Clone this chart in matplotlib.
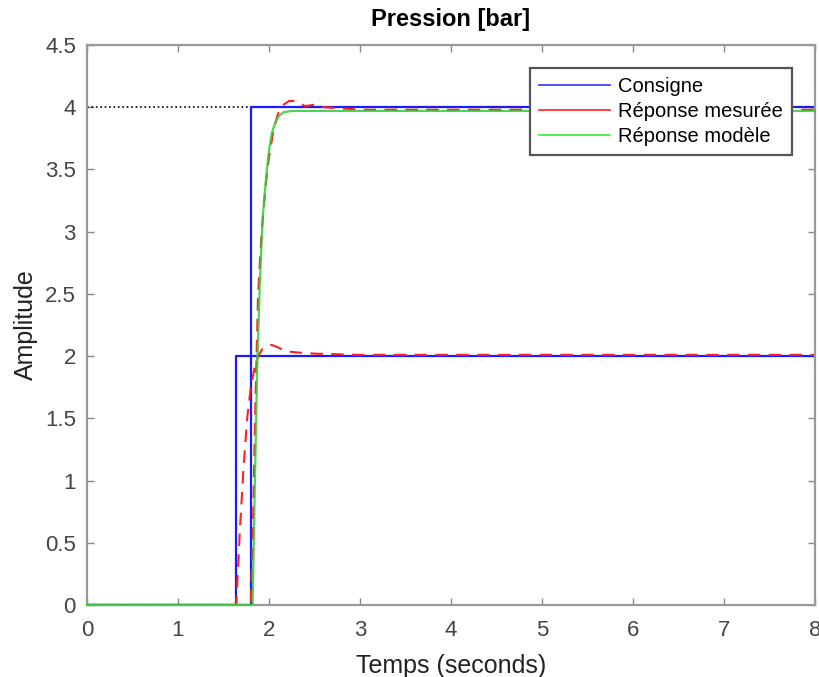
import matplotlib
matplotlib.use("Agg")
import matplotlib.pyplot as plt

plt.rcParams['font.family'] = ['Liberation Sans', 'DejaVu Sans']

# Consigne (set-points)
t_cons1 = [0, 1.64, 1.64, 8]
y_cons1 = [0, 0, 2, 2]
t_cons2 = [0, 1.80, 1.80, 8]
y_cons2 = [0, 0, 4, 4]

# Measured responses
t_mes1 = [0, 1.64, 1.68, 1.72, 1.76, 1.80, 1.84, 1.88, 1.93, 1.98, 2.03, 2.10, 2.18, 2.30, 2.50, 3.0, 4.0, 8.0]
y_mes1 = [0, 0, 0.6, 1.1, 1.5, 1.75, 1.9, 2.0, 2.06, 2.08, 2.09, 2.07, 2.04, 2.03, 2.02, 2.01, 2.01, 2.01]
t_mes2 = [0, 1.80, 1.82, 1.85, 1.88, 1.92, 1.96, 2.00, 2.05, 2.10, 2.16, 2.22, 2.27, 2.33, 2.40, 2.50, 2.60, 2.80, 3.0, 8.0]
y_mes2 = [0, 0, 0.5, 1.6, 2.5, 3.0, 3.35, 3.6, 3.82, 3.95, 4.02, 4.05, 4.05, 4.03, 4.01, 4.02, 4.0, 3.99, 3.98, 3.98]

# Model response
t_mod = [0, 1.82, 1.84, 1.87, 1.90, 1.93, 1.97, 2.00, 2.03, 2.07, 2.11, 2.16, 2.25, 2.40, 8.0]
y_mod = [0, 0, 0.8, 1.9, 2.6, 3.1, 3.45, 3.65, 3.79, 3.88, 3.93, 3.96, 3.97, 3.97, 3.97]

# Steady-state reference
t_ss = [0, 2.2]
y_ss = [4, 4]

xticks = [0, 1, 2, 3, 4, 5, 6, 7, 8]
yticks = [0, 0.5, 1, 1.5, 2, 2.5, 3, 3.5, 4, 4.5]
ytick_labels = ['0', '0.5', '1', '1.5', '2', '2.5', '3', '3.5', '4', '4.5']

fig = plt.figure(figsize=(8.2, 6.77), dpi=100)
ax = fig.add_axes([87/820, 1-605/677, (815-87)/820, (605-45)/677])

ax.plot(t_ss, y_ss, ':', color='black', lw=1.2)
l1, = ax.plot(t_cons1, y_cons1, color='#1a1aff', lw=1.6)
ax.plot(t_cons2, y_cons2, color='#1a1aff', lw=1.6)
l2, = ax.plot(t_mes1, y_mes1, '--', color='#ff2020', lw=1.5, dashes=(6, 4))
ax.plot(t_mes2, y_mes2, '--', color='#ff2020', lw=1.5, dashes=(6, 4))
l3, = ax.plot(t_mod, y_mod, color='#33cc33', lw=1.6, alpha=0.85, clip_on=False, zorder=5)

ax.set_xlim(0, 8)
ax.set_ylim(0, 4.5)
ax.set_xticks(xticks)
ax.set_xticklabels([str(v) for v in xticks])
ax.set_yticks(yticks)
ax.set_yticklabels(ytick_labels)
ax.tick_params(direction='in', top=True, right=True, length=5, width=1,
               color='#888888', labelcolor='#444444', labelsize=16)
ax.tick_params(axis='x', pad=11)
ax.tick_params(axis='y', pad=8)
for s in ax.spines.values():
    s.set_color('#999999')
    s.set_linewidth(1.6)

ax.set_xlabel('Temps (seconds)', fontsize=18, color='#222222', labelpad=9)
ax.set_ylabel('Amplitude', fontsize=18, color='#222222', labelpad=5)
ax.set_title('Pression [bar]', fontsize=17, fontweight='bold', pad=14)

h1, = ax.plot([], [], color='#3333ff', lw=1.2)
h2, = ax.plot([], [], color='#ff2020', lw=1.2)
h3, = ax.plot([], [], color='#33ee33', lw=1.2)
leg = ax.legend([h1, h2, h3], ['Consigne', 'Réponse mesurée', 'Réponse modèle'],
                loc='upper right', bbox_to_anchor=(0.968, 0.959), borderaxespad=0,
                fontsize=14.5, fancybox=False, framealpha=1, edgecolor='#555555',
                handlelength=3.5, handletextpad=0.4, borderpad=0.45, labelspacing=0.3)
leg.get_frame().set_linewidth(1.6)

fig.savefig('out.png', dpi=100)
